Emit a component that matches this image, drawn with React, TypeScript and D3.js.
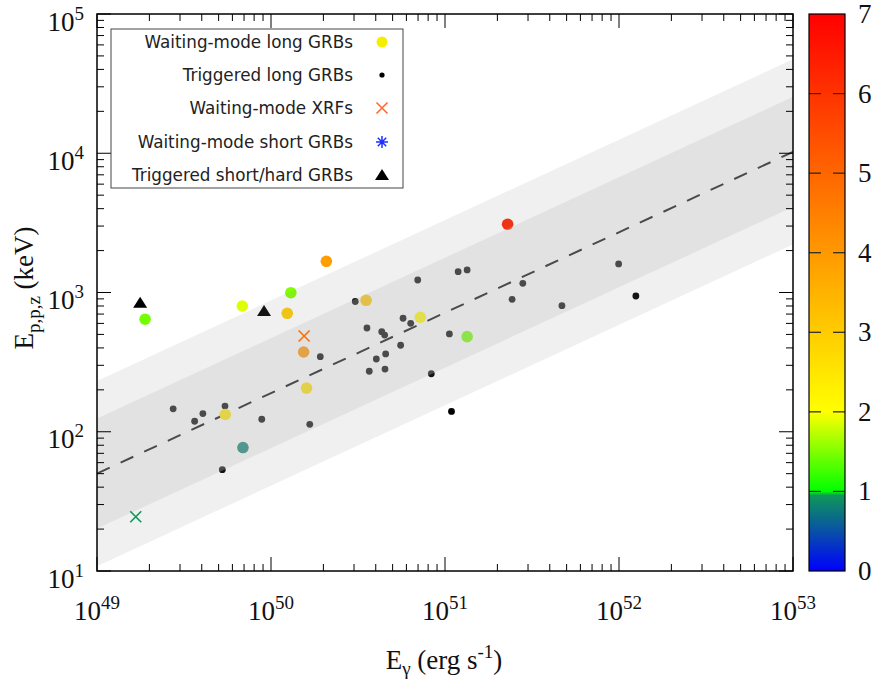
import React from "react";
import * as d3 from "d3";

// ---- Data ----
// Waiting-mode long GRBs: E_gamma (erg), Ep (keV), redshift z
const waitLongE = [1.89e49, 6.84e49, 1.30e50, 2.08e50, 1.24e50, 1.54e50, 1.60e50, 5.46e49, 6.9e49, 3.52e50, 7.21e50, 1.34e51, 2.29e51];
const waitLongEp = [643, 800, 997, 1675, 709, 374, 206, 133, 77, 879, 664, 482, 3090];
const waitLongZ = [1.45, 1.87, 1.5, 3.9, 3.0, 4.1, 2.6, 2.5, 0.8, 3.1, 2.1, 1.45, 6.29];

// Triggered long GRBs
const trigLongE = [2.74e49, 4.06e49, 3.64e49, 5.44e49, 8.85e49, 1.67e50, 5.25e49, 1.92e50, 3.05e50, 3.56e50, 3.67e50, 4.03e50, 4.33e50, 4.50e50, 4.56e50, 4.52e50, 5.56e50, 5.74e50, 6.35e50, 6.97e50, 8.34e50, 1.06e51, 1.09e51, 1.19e51, 1.34e51, 2.43e51, 2.80e51, 4.70e51, 9.95e51, 1.25e52];
const trigLongEp = [146, 135, 119, 153, 123, 113, 53.4, 346, 862, 556, 272, 333, 523, 495, 362, 282, 418, 653, 601, 1230, 261, 504, 140, 1410, 1452, 893, 1164, 804, 1603, 944];

// Waiting-mode XRFs
const xrfE = [1.55e50, 1.67e49];
const xrfEp = [487, 24.5];
const xrfZ = [4.9, 0.95];

// Triggered short/hard GRBs
const shortE = [1.77e49, 9.12e49];
const shortEp = [845, 737];

// Relation: log Ep = a + b (log E - 49), with scatter bands (dex)
const relA = 1.70;
const relB = 0.5775;
const innerWidth = 0.395;
const outerWidth = 0.665;

const xTickDecades = [49, 50, 51, 52, 53];
const yTickDecades = [1, 2, 3, 4, 5];
const zTicks = [0, 1, 2, 3, 4, 5, 6, 7];

const legendLabels = [
  "Waiting-mode long GRBs",
  "Triggered long GRBs",
  "Waiting-mode XRFs",
  "Waiting-mode short GRBs",
  "Triggered short/hard GRBs",
];

// ---- Layout ----
const W = 882, H = 682;
const L = 97, R = 793, T = 14, B = 571;
const CB_L = 809, CB_R = 845;

const x = d3.scaleLog().domain([1e49, 1e53]).range([L, R]);
const y = d3.scaleLog().domain([10, 1e5]).range([B, T]);
const zScale = d3.scaleLinear().domain([0, 7]).range([B, T]);
const zColor = d3
  .scaleLinear<string>()
  .domain([0, 0.999, 1, 2, 7])
  .range(["#0000ff", "#10a050", "#00ff00", "#ffff00", "#ff0000"]);

const serif = "'Liberation Serif', 'Times New Roman', serif";
const sans = "'DejaVu Sans', sans-serif";

function relLog(logE: number, off: number) {
  return relA + relB * (logE - 49) + off;
}

function bandPath(w: number) {
  const top = [49, 53].map((le) => [x(Math.pow(10, le)), y(Math.pow(10, relLog(le, w)))]);
  const bot = [53, 49].map((le) => [x(Math.pow(10, le)), y(Math.pow(10, relLog(le, -w)))]);
  return d3.line()([...top, ...bot] as [number, number][]) + "Z";
}

const triPath = "M-7,5L7,5L0,-6Z";
function xPath(s: number) {
  return `M${-s},${-s}L${s},${s}M${-s},${s}L${s},${-s}`;
}
function starPath(s: number) {
  const d = s * 0.7071;
  return `M${-s},0L${s},0M0,${-s}L0,${s}M${-d},${-d}L${d},${d}M${-d},${d}L${d},${-d}`;
}

export default function App() {
  const xMajor = xTickDecades.map((d) => Math.pow(10, d));
  const xMinor: number[] = [];
  xTickDecades.slice(0, -1).forEach((d) => {
    for (let k = 2; k <= 9; k++) xMinor.push(k * Math.pow(10, d));
  });
  const yMajor = yTickDecades.map((d) => Math.pow(10, d));
  const yMinor: number[] = [];
  yTickDecades.slice(0, -1).forEach((d) => {
    for (let k = 2; k <= 9; k++) yMinor.push(k * Math.pow(10, d));
  });

  const lineData: [number, number][] = [49, 53].map((le) => [
    x(Math.pow(10, le)),
    y(Math.pow(10, relLog(le, 0))),
  ]);

  const gradStops = d3.range(0, 7.001, 0.05);
  const legendRowsY = [42, 75, 108, 142, 175];

  return (
    <svg width={W} height={H} style={{ position: "absolute", left: 0, top: 0, background: "#fff" }}>
      <defs>
        <linearGradient id="cbGrad" x1="0" y1="1" x2="0" y2="0">
          {gradStops.map((z, i) => (
            <stop key={i} offset={z / 7} stopColor={zColor(z)} />
          ))}
        </linearGradient>
        <clipPath id="plotClip">
          <rect x={L} y={T} width={R - L} height={B - T} />
        </clipPath>
      </defs>

      <g clipPath="url(#plotClip)">
        {/* relation line (under bands) */}
        <path
          d={d3.line()(lineData) || ""}
          stroke="#000"
          strokeWidth={2}
          strokeDasharray="14,12"
          fill="none"
        />
        {/* triggered long GRBs */}
        {trigLongE.map((e, i) => (
          <circle key={"t" + i} cx={x(e)} cy={y(trigLongEp[i])} r={3.4} fill="#000" />
        ))}
        {/* waiting-mode long GRBs */}
        {waitLongE.map((e, i) => (
          <circle key={"w" + i} cx={x(e)} cy={y(waitLongEp[i])} r={5.8} fill={zColor(waitLongZ[i])} />
        ))}
        {/* triggered short/hard GRBs */}
        {shortE.map((e, i) => (
          <path key={"s" + i} d={triPath} transform={`translate(${x(e)},${y(shortEp[i])})`} fill="#000" />
        ))}
        {/* bands drawn over points */}
        <path d={bandPath(outerWidth)} fill="rgb(146,146,146)" fillOpacity={0.137} />
        <path d={bandPath(innerWidth)} fill="rgb(198,198,198)" fillOpacity={0.31} />
        {/* XRFs */}
        {xrfE.map((e, i) => (
          <path
            key={"x" + i}
            d={xPath(5.5)}
            transform={`translate(${x(e)},${y(xrfEp[i])})`}
            stroke={zColor(xrfZ[i])}
            strokeWidth={1.6}
            fill="none"
          />
        ))}
      </g>

      {/* ticks */}
      <g stroke="#000" strokeWidth={1}>
        {xMajor.map((v, i) => (
          <g key={"xM" + i}>
            <line x1={x(v)} x2={x(v)} y1={B} y2={B - 14} />
            <line x1={x(v)} x2={x(v)} y1={T} y2={T + 14} />
          </g>
        ))}
        {xMinor.map((v, i) => (
          <g key={"xm" + i}>
            <line x1={x(v)} x2={x(v)} y1={B} y2={B - 7} />
            <line x1={x(v)} x2={x(v)} y1={T} y2={T + 7} />
          </g>
        ))}
        {yMajor.map((v, i) => (
          <g key={"yM" + i}>
            <line x1={L} x2={L + 14} y1={y(v)} y2={y(v)} />
            <line x1={R} x2={R - 14} y1={y(v)} y2={y(v)} />
          </g>
        ))}
        {yMinor.map((v, i) => (
          <g key={"ym" + i}>
            <line x1={L} x2={L + 7} y1={y(v)} y2={y(v)} />
            <line x1={R} x2={R - 7} y1={y(v)} y2={y(v)} />
          </g>
        ))}
      </g>
      <rect x={L} y={T} width={R - L} height={B - T} fill="none" stroke="#000" strokeWidth={1.5} />

      {/* tick labels */}
      <g fontFamily={serif} fill="#111">
        {xTickDecades.map((d, i) => (
          <text key={"xl" + i} x={x(Math.pow(10, d))} y={620} textAnchor="middle" fontSize={27}>
            10<tspan dy={-11} fontSize={19}>{d}</tspan>
          </text>
        ))}
        {yTickDecades.map((d, i) => (
          <text key={"yl" + i} x={84} y={y(Math.pow(10, d)) + 16.5} textAnchor="end" fontSize={27}>
            10<tspan dy={-11} fontSize={19}>{d}</tspan>
          </text>
        ))}
        <text x={444} y={669} textAnchor="middle" fontSize={27}>
          E<tspan dy={6} fontSize={19}>γ</tspan>
          <tspan dy={-6}> (erg s</tspan>
          <tspan dy={-11} fontSize={19}>-1</tspan>
          <tspan dy={11}>)</tspan>
        </text>
        <text transform="translate(33,288) rotate(-90)" textAnchor="middle" fontSize={27}>
          E<tspan dy={7} fontSize={19}>p,p,z</tspan>
          <tspan dy={-7}> (keV)</tspan>
        </text>
      </g>

      {/* legend */}
      <g>
        <rect x={111} y={29} width={292} height={159} fill="#fff" stroke="#444" strokeWidth={1} />
        {legendLabels.map((lab, i) => (
          <text
            key={"lg" + i}
            x={353}
            y={legendRowsY[i] + 6}
            textAnchor="end"
            fontFamily={sans}
            fontSize={16.8}
            fill="#222"
          >
            {lab}
          </text>
        ))}
        <circle cx={382} cy={legendRowsY[0]} r={5.5} fill="#f5ee00" />
        <circle cx={382} cy={legendRowsY[1]} r={2.6} fill="#000" />
        <path d={xPath(5.5)} transform={`translate(382,${legendRowsY[2]})`} stroke="#ff6a30" strokeWidth={1.6} fill="none" />
        <path d={starPath(6)} transform={`translate(382,${legendRowsY[3]})`} stroke="#2030ff" strokeWidth={1.5} fill="none" />
        <path d={triPath} transform={`translate(382,${legendRowsY[4]})`} fill="#000" />
      </g>

      {/* colorbar */}
      <rect x={CB_L} y={T} width={CB_R - CB_L} height={B - T} fill="url(#cbGrad)" />
      <g stroke="#222" strokeWidth={1.2}>
        {zTicks.slice(1, -1).map((z, i) => (
          <g key={"cbt" + i}>
            <line x1={CB_L} x2={CB_L + 12} y1={zScale(z)} y2={zScale(z)} />
            <line x1={CB_R - 12} x2={CB_R} y1={zScale(z)} y2={zScale(z)} />
          </g>
        ))}
      </g>
      <rect x={CB_L} y={T} width={CB_R - CB_L} height={B - T} fill="none" stroke="#000" strokeWidth={1.2} />
      <g fontFamily={serif} fontSize={27} fill="#111">
        {zTicks.map((z, i) => (
          <text key={"cbl" + i} x={858} y={zScale(z) + 9}>
            {z}
          </text>
        ))}
      </g>
    </svg>
  );
}
